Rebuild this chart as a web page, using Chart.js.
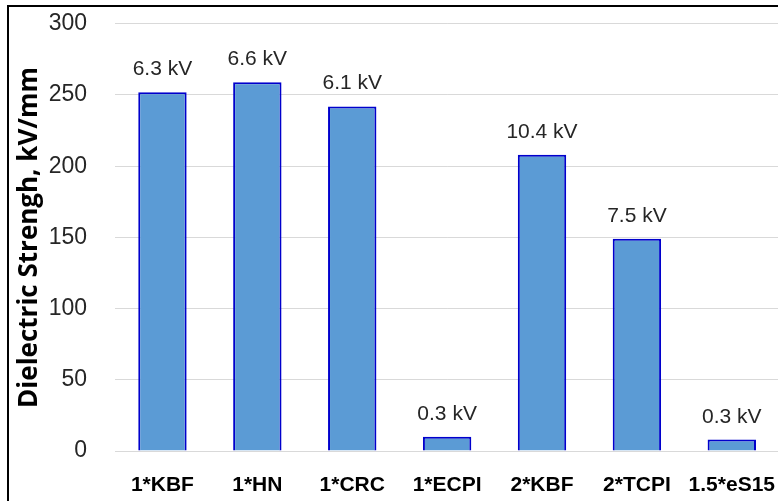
<!DOCTYPE html>
<html lang="en">
  <head>
    <meta charset="utf-8" />
    <title>Dielectric Strength</title>
    <style>
      html, body { margin: 0; padding: 0; background: #fff; overflow: hidden; }
      #frame {
        position: absolute; left: 7px; top: 5px; width: 800px; height: 520px;
        border-top: 2px solid #000; border-left: 2px solid #000;
      }
      #wrap { position: absolute; left: 0; top: -18px; width: 789px; height: 519px; }
    </style>
    <script src="https://cdn.jsdelivr.net/npm/chart.js"></script>
  </head>
  <body>
    <div id="frame"></div>
    <div id="wrap"><canvas id="strengthChart"></canvas></div>

    <script>
      const samples = ['1*KBF', '1*HN', '1*CRC', '1*ECPI', '2*KBF', '2*TCPI', '1.5*eS15'];
      const strength = [252, 259, 242, 10, 208, 149, 8];
      const breakdown = ['6.3 kV', '6.6 kV', '6.1 kV', '0.3 kV', '10.4 kV', '7.5 kV', '0.3 kV'];

      // labels above the bars (no datalabels plugin offline)
      const barLabels = {
        id: 'barLabels',
        afterDatasetsDraw(chart) {
          const ctx = chart.ctx;
          const meta = chart.getDatasetMeta(0);
          ctx.save();
          ctx.font = '21px "Liberation Sans", Arial, sans-serif';
          ctx.fillStyle = '#262626';
          ctx.textAlign = 'center';
          ctx.textBaseline = 'alphabetic';
          meta.data.forEach((bar, i) => {
            ctx.fillText(breakdown[i], bar.x, bar.y - 17);
          });
          ctx.restore();
        }
      };

      const ctx = document.getElementById('strengthChart').getContext('2d');
      new Chart(ctx, {
        type: 'bar',
        data: {
          labels: samples,
          datasets: [{
            data: strength,
            backgroundColor: '#5b9bd5',
            borderColor: '#0000cc',
            borderWidth: 2,
            categoryPercentage: 1,
            barPercentage: 0.51
          }]
        },
        options: {
          responsive: true,
          maintainAspectRatio: false,
          animation: false,
          layout: { padding: { left: 0, right: 0, top: 10, bottom: 0 } },
          plugins: {
            legend: { display: false },
            tooltip: { enabled: false }
          },
          scales: {
            x: {
              grid: { display: false },
              border: { color: '#d9d9d9', width: 1 },
              ticks: {
                color: '#000',
                font: { family: '"Liberation Sans", Arial, sans-serif', size: 21, weight: 'bold' },
                padding: 14,
                maxRotation: 0,
                autoSkip: false
              },
              afterFit(scale) { scale.height = 50; }
            },
            y: {
              min: 0,
              max: 300,
              ticks: {
                stepSize: 50,
                color: '#262626',
                padding: 28,
                font: { family: '"Liberation Sans", Arial, sans-serif', size: 23 }
              },
              grid: { color: '#d9d9d9', lineWidth: 1, drawTicks: false },
              border: { display: false },
              title: {
                display: true,
                text: 'Dielectric Strengh, kV/mm',
                color: '#000',
                padding: { top: 14, bottom: 0 },
                font: { family: '"Open Sans", sans-serif', size: 26, weight: 'bold' }
              },
              afterFit(scale) { scale.width = 115; }
            }
          }
        },
        plugins: [barLabels]
      });
    </script>
  </body>
</html>
